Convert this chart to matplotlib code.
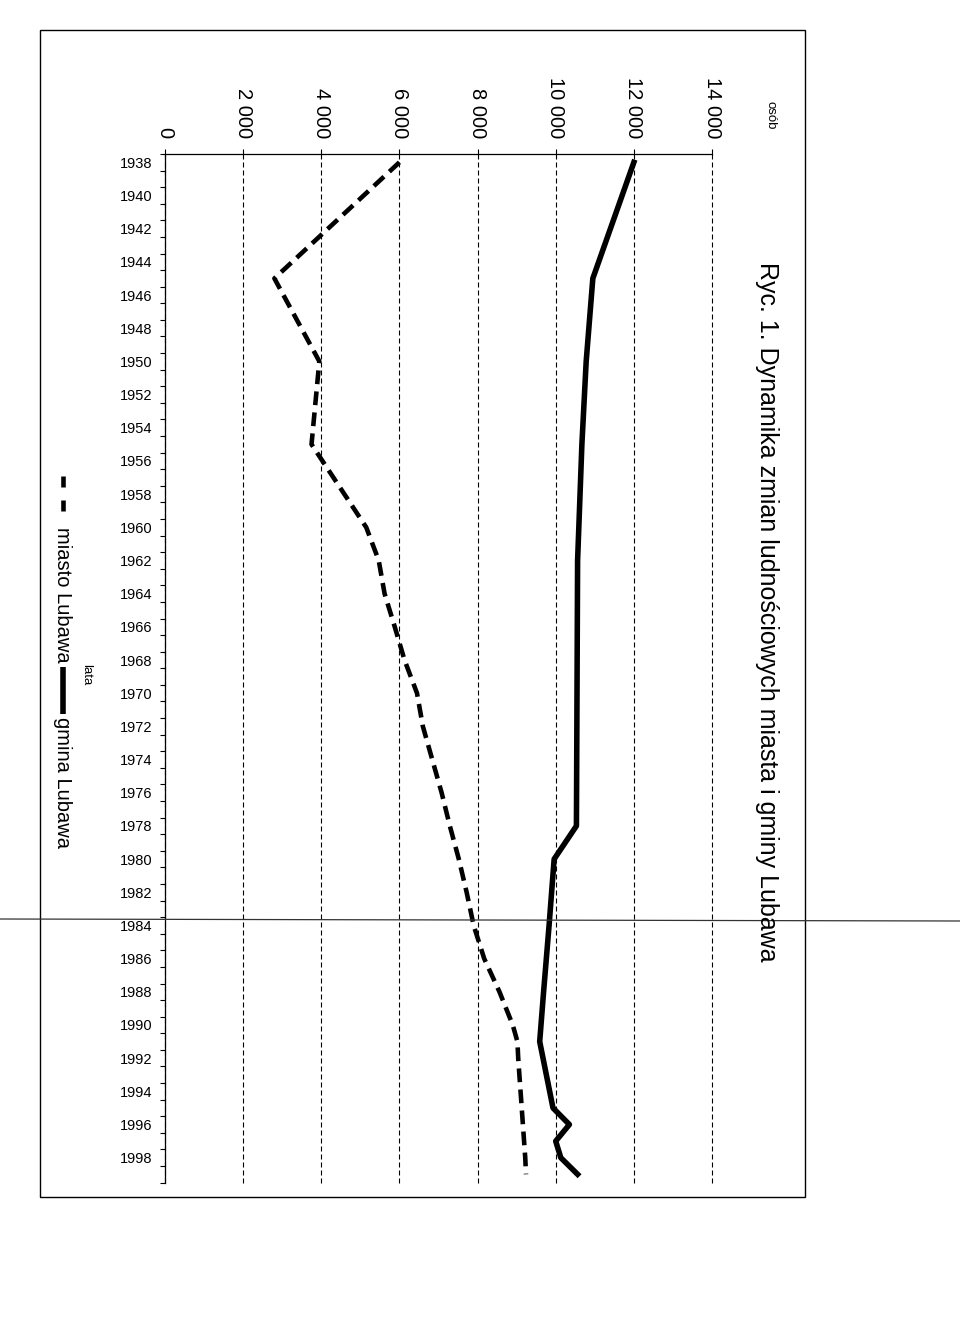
import matplotlib
matplotlib.use('Agg')
import matplotlib.pyplot as plt
from matplotlib.lines import Line2D
from matplotlib.patches import Rectangle

plt.rcParams['font.family'] = ['Liberation Sans', 'DejaVu Sans']

# data (osób)
years_miasto = [1938, 1945, 1950, 1955, 1960, 1962, 1964, 1966, 1968, 1970, 1972,
                1976, 1978, 1980, 1982, 1984, 1986, 1988, 1990, 1991, 1992, 1995,
                1998, 1999]
miasto = [6000, 2800, 3950, 3750, 5150, 5470, 5620, 5880, 6130, 6450, 6600,
          7080, 7290, 7520, 7720, 7900, 8170, 8560, 8900, 9020, 9040, 9130,
          9220, 9240]

years_gmina = [1938, 1945, 1950, 1955, 1962, 1978, 1980, 1984, 1988, 1991,
               1995, 1996, 1997, 1998, 1999]
gmina = [12000, 10950, 10780, 10670, 10560, 10530, 9960, 9830, 9690, 9590,
         9930, 10350, 10000, 10130, 10560]

value_ticks = [0, 2000, 4000, 6000, 8000, 10000, 12000, 14000]
value_labels = ['0', '2 000', '4 000', '6 000', '8 000', '10 000', '12 000', '14 000']
label_years = list(range(1938, 1999, 2))
title = 'Ryc. 1. Dynamika zmian ludnościowych miasta i gminy Lubawa'

W, H = 960, 1343
fig = plt.figure(figsize=(9.6, 13.43), dpi=100)


def fx(px):
    return px / W


def fy(py):
    return 1 - py / H


ax = fig.add_axes([fx(165), fy(1182.6), fx(712) - fx(165), fy(154) - fy(1182.6)])

ax.plot(miasto, years_miasto, color='black', lw=3.3,
        linestyle=(0, (3.0, 1.6)), dash_capstyle='butt')
ax.plot(gmina, years_gmina, color='black', lw=4)

ax.set_xlim(0, 14000)
ax.set_ylim(1999.5, 1937.5)

ax.xaxis.set_ticks_position('top')
ax.set_xticks(value_ticks)
ax.set_xticklabels(value_labels, rotation=270, ha='center', va='bottom', fontsize=14.5)
ax.tick_params(axis='x', direction='out', length=3.6, width=0.8, pad=8)

ax.set_yticks(label_years)
ax.set_yticklabels([str(y) for y in label_years], fontsize=10.5)
ax.set_yticks([y + 0.5 for y in range(1937, 2000)], minor=True)
ax.tick_params(axis='y', which='major', length=0, pad=9)
ax.tick_params(axis='y', which='minor', length=3.6, width=0.8, direction='out')

ax.grid(axis='x', color='black', lw=0.8, linestyle=(0, (4.5, 2.7)))
for gl in ax.get_xgridlines():
    gl.set_clip_on(False)
for s in ['right', 'bottom']:
    ax.spines[s].set_visible(False)
for s in ['top', 'left']:
    ax.spines[s].set_linewidth(0.9)

# outer frame of the chart
fig.add_artist(Rectangle((fx(40), fy(1197)), fx(805) - fx(40), fy(30) - fy(1197),
                         fill=False, lw=1, ec='black', transform=fig.transFigure))

fig.text(fx(767), fy(262), title, rotation=270, rotation_mode='anchor',
         ha='left', va='center', fontsize=18)
fig.text(fx(770), fy(101), 'osób', rotation=270, rotation_mode='anchor',
         ha='left', va='center', fontsize=9.5)
fig.text(fx(86), fy(664), 'lata', rotation=270, rotation_mode='anchor',
         ha='left', va='center', fontsize=9.5)

# legend, drawn by hand because it is rotated
fig.add_artist(Line2D([fx(63), fx(63)], [fy(476), fy(487)], lw=3.3, color='black',
                      solid_capstyle='butt'))
fig.add_artist(Line2D([fx(63), fx(63)], [fy(500), fy(511)], lw=3.3, color='black',
                      solid_capstyle='butt'))
fig.text(fx(62), fy(527), 'miasto Lubawa', rotation=270, rotation_mode='anchor',
         ha='left', va='center', fontsize=14.5)
fig.add_artist(Line2D([fx(63), fx(63)], [fy(667), fy(714)], lw=4, color='black',
                      solid_capstyle='butt'))
fig.text(fx(62), fy(717), 'gmina Lubawa', rotation=270, rotation_mode='anchor',
         ha='left', va='center', fontsize=14.5)

# thin line across the page from the scan
fig.add_artist(Line2D([0, 1], [fy(919), fy(921)], lw=0.9, color='#333333'))

fig.savefig('out.png', dpi=100)
